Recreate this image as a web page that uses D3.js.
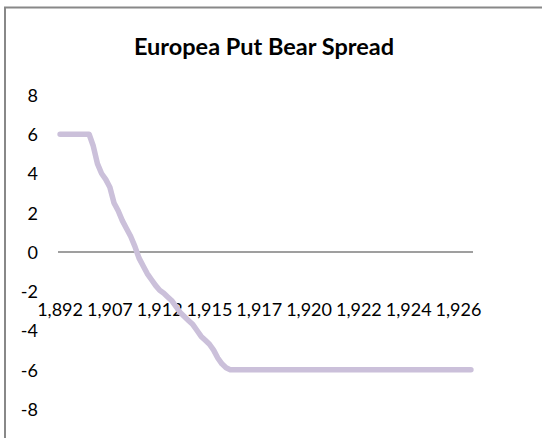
<!DOCTYPE html>
<html>
<head>
<meta charset="utf-8">
<script src="https://cdn.jsdelivr.net/npm/d3@7"></script>
<style>
  html, body { margin: 0; padding: 0; background: #fff; }
  svg { display: block; }
  text { font-family: Lato, "Open Sans", sans-serif; fill: #000; }
</style>
</head>
<body>
<svg id="chart" width="542" height="438"></svg>
<script>
// ---- data ----
const title = "Europea Put Bear Spread";
const payoff = [
  6, 6, 6, 6, 6, 6, 6, 6, 5.4, 4.5,
  4.0, 3.7, 3.3, 2.5, 2.1, 1.6, 1.2, 0.8, 0.3, -0.3,
  -0.7, -1.1, -1.4, -1.7, -1.95, -2.1, -2.3, -2.5, -2.8, -3.1,
  -3.3, -3.5, -3.7, -4.0, -4.3, -4.5, -4.7, -5.0, -5.4, -5.7,
  -5.9, -6, -6, -6, -6, -6, -6, -6, -6, -6,
  -6, -6, -6, -6, -6, -6, -6, -6, -6, -6,
  -6, -6, -6, -6, -6, -6, -6, -6, -6, -6,
  -6, -6, -6, -6, -6, -6, -6, -6, -6, -6,
  -6, -6, -6, -6, -6, -6, -6, -6, -6, -6,
  -6, -6, -6, -6, -6, -6, -6, -6, -6, -6
];
const categories = d3.range(payoff.length);
const xTickIndex = [0, 12, 24, 36, 48, 60, 72, 84, 96];
const xTickLabels = ["1,892", "1,907", "1,912", "1,915", "1,917", "1,920", "1,922", "1,924", "1,926"];
const yTicks = [-8, -6, -4, -2, 0, 2, 4, 6, 8];

// ---- drawing ----
const svg = d3.select("#chart");

// outer frame (extends beyond the visible area)
svg.append("path")
  .attr("d", "M5,440 L5,7.5 L545,7.5")
  .attr("fill", "none")
  .attr("stroke", "#888888")
  .attr("stroke-width", 2);

const x = d3.scaleBand().domain(categories).range([58, 473]).padding(0);
const xc = i => x(i) + x.bandwidth() / 2;
const y = d3.scaleLinear().domain([-8, 8]).range([409, 95]);

// title
svg.append("text")
  .attr("x", 264)
  .attr("y", 55)
  .attr("text-anchor", "middle")
  .style("font-weight", "bold")
  .style("font-size", "23.5px")
  .text(title);

// y axis labels (no axis line)
const yAxis = d3.axisLeft(y).tickValues(yTicks).tickSize(0).tickPadding(0)
  .tickFormat(d => String(d));
const gy = svg.append("g").attr("transform", "translate(38,0)").call(yAxis);
gy.select(".domain").remove();
gy.selectAll("text")
  .style("font-family", "Lato, sans-serif")
  .style("font-size", "18px")
  .attr("fill", "#000")
  .attr("dy", "0.35em");

// x axis at zero
const xAxis = d3.axisBottom(x).tickValues(xTickIndex).tickSize(0).tickPadding(0)
  .tickFormat(d => xTickLabels[xTickIndex.indexOf(d)]);
const gx = svg.append("g").attr("transform", `translate(0,${y(0)})`).call(xAxis);
gx.select(".domain").attr("stroke", "#7f7f7f").attr("stroke-width", 1.3)
  .attr("d", `M${x.range()[0]},0H${x.range()[1]}`);
gx.selectAll("text")
  .style("font-family", "Lato, sans-serif")
  .style("font-size", "18px")
  .attr("fill", "#000")
  .attr("y", 64)
  .attr("dy", "0");

// payoff line
const line = d3.line()
  .x((d, i) => xc(categories[i]))
  .y(d => y(d));
svg.append("path")
  .datum(payoff)
  .attr("d", line)
  .attr("fill", "none")
  .attr("stroke", "#cbc0da")
  .attr("stroke-width", 5.5)
  .attr("stroke-linejoin", "round")
  .attr("stroke-linecap", "round");
</script>
</body>
</html>
